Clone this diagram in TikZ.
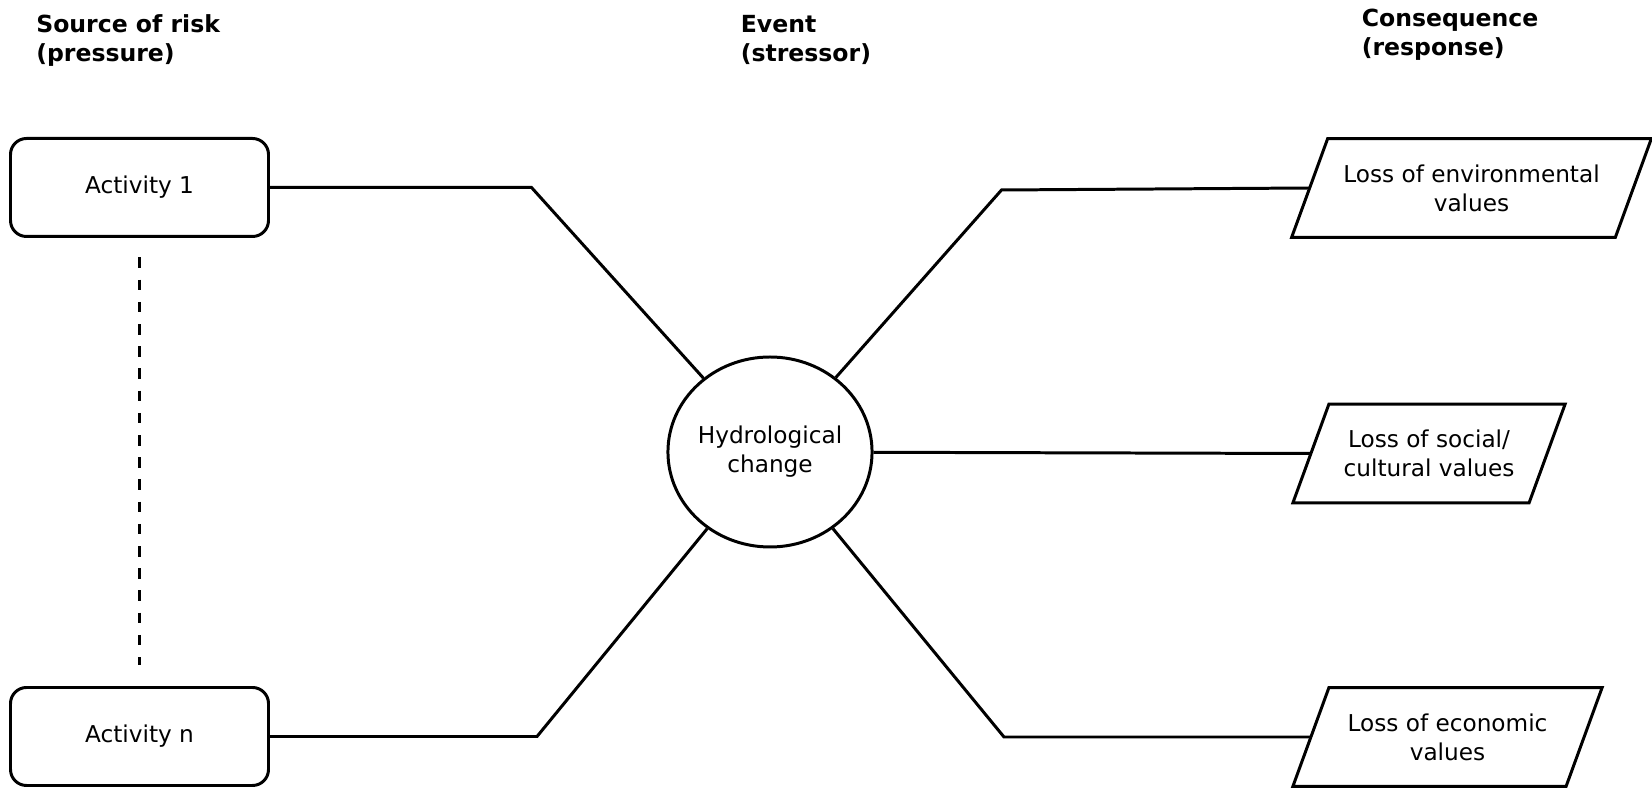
\documentclass[tikz,border=0pt]{standalone}
\usepackage{fontspec}
\setmainfont{DejaVu Sans}
\usetikzlibrary{shapes.geometric}
\tikzset{
  activity/.style={draw=black, line width=1.7pt, rounded corners=0.32cm,
    minimum width=5.16cm, minimum height=1.96cm, inner sep=0pt,
    font=\fontsize{13.2}{16.5}\selectfont},
  stressor/.style={draw=black, line width=1.7pt, ellipse, minimum width=3.96cm,
    minimum height=3.8cm, inner sep=0pt, align=center,
    font=\fontsize{13.2}{16.5}\selectfont},
  lossbox/.style={minimum height=1.96cm, inner sep=0pt, align=center,
    font=\fontsize{13.2}{16.5}\selectfont},
  heading/.style={anchor=base west, align=left, inner sep=0pt,
    font=\fontsize{13.4}{16.5}\selectfont\bfseries},
  link/.style={draw=black, line width=1.7pt}
}
\begin{document}
\begin{tikzpicture}
            \useasboundingbox (0,0) rectangle (33.04,15.76);
            % Add column headings
            \node[heading] (hsource) at (0.72,14.53) {Source of risk\\(pressure)};
            \node[heading] (hevent) at (14.81,14.53) {Event\\(stressor)};
            \node[heading] (hconseq) at (27.23,14.65) {Consequence\\(response)};
            % Add activities
            \node[activity] (act1) at (2.79,12.01) {Activity 1};
            \node[activity] (actn) at (2.79,1.03) {Activity n};
            % Add event
            \node[stressor] (hyd) at (15.40,6.72) {Hydrological\\change};
            % Add consequences
            \node[lossbox, minimum width=6.46cm] (env) at (29.43,12.00) {Loss of environmental\\values};
            \node[lossbox, minimum width=4.71cm] (soc) at (28.58,6.69) {Loss of social/\\cultural values};
            \node[lossbox, minimum width=5.45cm] (eco) at (28.95,1.02) {Loss of economic\\values};
            % Draw consequence outlines
            \foreach \n in {env,soc,eco}
              \draw[link] ([xshift=0.36cm]\n.north west) -- ([xshift=0.36cm]\n.north east)
                -- ([xshift=-0.36cm]\n.south east) -- ([xshift=-0.36cm]\n.south west) -- cycle;
            % Draw bends
            \coordinate (e1) at (10.63,12.01);
            \coordinate (e2) at (10.74,1.03);
            \coordinate (e3) at (20.03,11.96);
            \coordinate (e4) at (20.08,1.02);
            % Draw links to event
            \draw[link] (act1.east) -- (e1) -- (hyd);
            \draw[link] (actn.east) -- (e2) -- (hyd);
            % Draw links to consequences
            \draw[link] (hyd) -- (e3) -- (env.west);
            \draw[link] (hyd) -- (soc.west);
            \draw[link] (hyd) -- (e4) -- (eco.west);
            % Draw dotted gap between activities
            \draw[link, dash pattern=on 0.21cm off 0.234cm, shorten <=0.39cm, shorten >=0.43cm] (act1) -- (actn);
        \end{tikzpicture}
\end{document}
